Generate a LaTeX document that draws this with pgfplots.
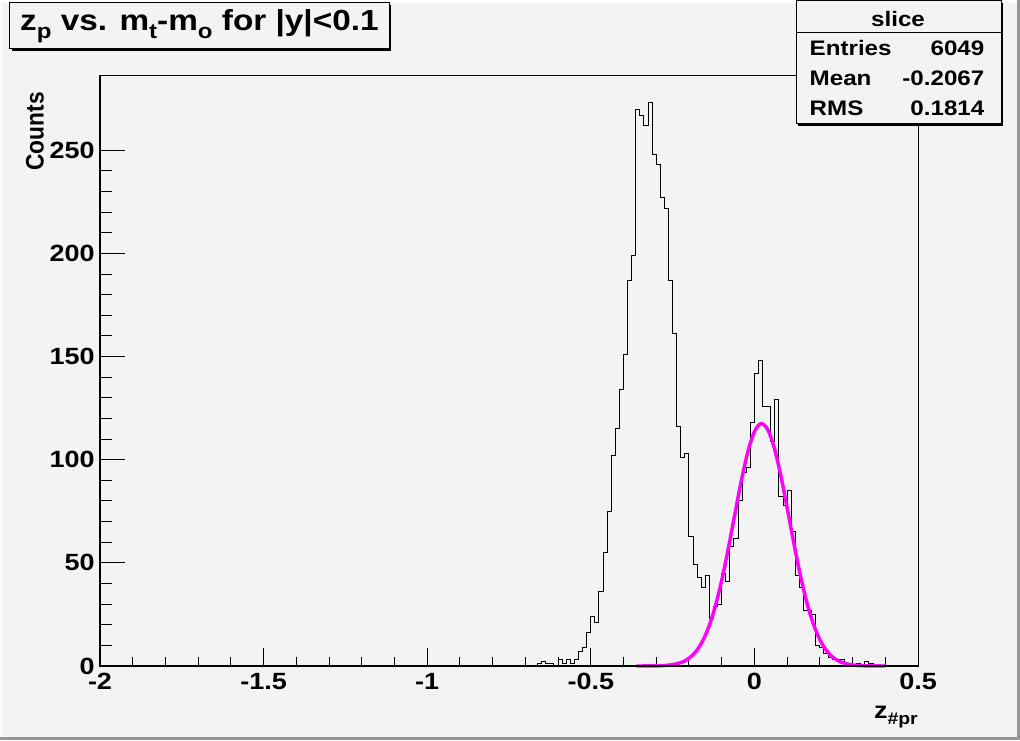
\documentclass[border=0pt]{standalone}
\usepackage{fontspec}
\setmainfont{Liberation Sans}[FakeStretch=1.15]
\usepackage{graphicx}
\usepackage{pgfplots}
\pgfplotsset{compat=1.18}
\definecolor{bg}{RGB}{243,243,243}
\definecolor{fitc}{RGB}{255,0,255}
\definecolor{bevel}{RGB}{150,150,150}
\newcommand{\fs}[1]{\fontsize{#1}{#1}\selectfont\bfseries}
\newcommand{\tsub}[1]{\raisebox{-0.28em}{\scalebox{0.72}{#1}}}
\begin{document}
\begin{tikzpicture}[x=1pt,y=1pt]
% canvas
\fill[bg] (-75,-55.5) rectangle (690,499.5);
\fill[white] (-75,497.25) rectangle (690,499.5);
\fill[white] (-75,-55.5) rectangle (-73.5,499.5);
\fill[bevel] (-75,-55.5) rectangle (690,-53.25);
\fill[bevel] (687.75,-55.5) rectangle (690,499.5);

\begin{axis}[
  scale only axis, width=613.5pt, height=442.5pt,
  xmin=-2, xmax=0.5, ymin=0, ymax=286,
  axis background/.style={fill=bg},
  axis line style={black, line width=0.75pt},
  tick pos=left, tick align=inside,
  xtick={-2,-1.5,-1,-0.5,0,0.5},
  xticklabels={-2,-1.5,-1,-0.5,0,0.5},
  minor x tick num=4,
  ytick=\empty,
  major tick length=13.3pt, minor tick length=6.6pt,
  tick style={black, line width=0.75pt},
  xticklabel style={font=\fs{17.6}, inner sep=0pt, yshift=-5.5pt},
  clip=false,
]
\addplot[const plot, black, line width=0.75pt] coordinates {
(-2,0) (-0.6625,1) (-0.65,2) (-0.6375,1) (-0.625,1) (-0.6125,0)
(-0.6,3) (-0.5875,1) (-0.575,3) (-0.5625,1) (-0.55,3) (-0.5375,7)
(-0.525,9) (-0.5125,16) (-0.5,24) (-0.4875,21) (-0.475,36) (-0.4625,55)
(-0.45,75) (-0.4375,102) (-0.425,115) (-0.4125,134) (-0.4,151)
(-0.3875,187) (-0.375,199) (-0.3625,270) (-0.35,267) (-0.3375,262)
(-0.325,273) (-0.3125,248) (-0.3,243) (-0.2875,227) (-0.275,222)
(-0.2625,187) (-0.25,161) (-0.2375,116) (-0.225,101) (-0.2125,103)
(-0.2,63) (-0.1875,49) (-0.175,43) (-0.1625,38) (-0.15,44)
(-0.1375,23) (-0.125,29) (-0.1125,30) (-0.1,45) (-0.0875,41)
(-0.075,58) (-0.0625,62) (-0.05,80) (-0.0375,94) (-0.025,96)
(-0.0125,118) (0,142) (0.0125,148) (0.025,126) (0.0375,126)
(0.05,109) (0.0625,129) (0.075,82) (0.0875,78) (0.1,85)
(0.1125,65) (0.125,44) (0.1375,38) (0.15,27) (0.1625,27)
(0.175,25) (0.1875,10) (0.2,9) (0.2125,6) (0.225,4) (0.2375,3)
(0.25,3) (0.2625,3) (0.275,1) (0.2875,1) (0.3,0) (0.3125,1)
(0.325,0) (0.3375,2) (0.35,1) (0.3625,0) (0.5,0)
};
\addplot[fitc, line width=2.6pt, smooth] coordinates {
(-0.36,0.004) (-0.34,0.012) (-0.32,0.033) (-0.30,0.083) (-0.28,0.198)
(-0.26,0.449) (-0.24,0.961) (-0.22,1.95) (-0.20,3.73) (-0.18,6.75)
(-0.16,11.56) (-0.14,18.71) (-0.12,28.64) (-0.10,41.44) (-0.08,56.71)
(-0.06,73.38) (-0.04,89.77) (-0.02,103.85) (0.00,113.58) (0.02,117.47)
(0.04,114.87) (0.06,106.2) (0.08,92.84) (0.10,76.74) (0.12,59.97)
(0.14,44.32) (0.16,30.97) (0.18,20.46) (0.20,12.78) (0.22,7.55)
(0.24,4.22) (0.26,2.23) (0.28,1.11) (0.30,0.52) (0.32,0.23)
(0.34,0.10) (0.36,0.04) (0.38,0.015) (0.40,0.005)
};
\draw[black, line width=1.5pt] (rel axis cs:0,1) -- (rel axis cs:0,0) -- (rel axis cs:1,0);
\end{axis}

\begin{axis}[
  scale only axis, width=613.5pt, height=442.5pt,
  xmin=-2, xmax=0.5, ymin=0, ymax=286,
  axis line style={draw=none},
  tick pos=left, tick align=inside,
  xtick=\empty,
  ytick={0,50,100,150,200,250},
  yticklabels={0,50,100,150,200,250},
  minor y tick num=4,
  major tick length=18.4pt, minor tick length=9.2pt,
  tick style={black, line width=0.75pt},
  yticklabel style={font=\fs{17.6}, inner sep=0pt, xshift=-3.75pt},
]
\end{axis}

% title
\fill[black] (-66,461.25) rectangle (218.25,495.75);
\draw[black, line width=0.75pt, fill=bg] (-67.5,462.75) rectangle (216.75,497.25);
\node[font=\fs{21.75}] at (74.6,480) {z\tsub{p} vs. m\tsub{t}-m\tsub{o} for |y|<0.1};

% stats box
\fill[black] (523.5,405) rectangle (677.25,497.25);
\draw[black, line width=0.75pt, fill=bg] (522,406.5) rectangle (675.75,498.75);
\draw[black, line width=0.75pt] (522,474.75) -- (675.75,474.75);
\node[font=\fs{15.75}, anchor=base] at (598.5,479.5) {slice};
\node[font=\fs{15.75}, anchor=base west] at (528.75,457.5) {Entries};
\node[font=\fs{15.75}, anchor=base east] at (666.75,457.5) {6049};
\node[font=\fs{15.75}, anchor=base west] at (528.75,435) {Mean};
\node[font=\fs{15.75}, anchor=base east] at (666.75,435) {-0.2067};
\node[font=\fs{15.75}, anchor=base west] at (528.75,412.5) {RMS};
\node[font=\fs{15.75}, anchor=base east] at (666.75,412.5) {0.1814};

% axis titles
\node[font=\fs{19}, rotate=90, anchor=east, inner sep=0pt] at (-48.75,430.5) {\scalebox{0.78}[1]{Counts}};
\node[font=\fs{17.6}, anchor=base east, inner sep=0pt] at (613.5,-39) {z\tsub{\#pr}};
\end{tikzpicture}
\end{document}
